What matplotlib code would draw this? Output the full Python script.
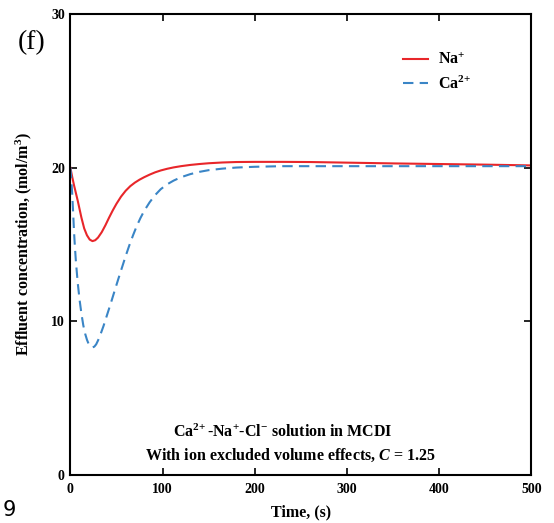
import matplotlib
matplotlib.use("Agg")
import matplotlib.pyplot as plt

plt.rcParams['font.family'] = 'Liberation Serif'
plt.rcParams['mathtext.fontset'] = 'custom'
plt.rcParams['mathtext.rm'] = 'Liberation Serif:bold'
plt.rcParams['mathtext.it'] = 'Liberation Serif:italic:bold'
plt.rcParams['mathtext.bf'] = 'Liberation Serif:bold'

# values
t_na = [0, 2, 4, 6, 8, 10, 12, 15, 18, 21, 24, 27, 30, 34, 38, 42, 46, 50, 55, 60, 65, 70, 75, 80,
        86, 92, 98, 105, 112, 120, 130, 140, 150, 165, 180, 200, 230, 260, 300, 350, 400, 450, 500]
na = [20.0, 19.4, 18.85, 18.35, 17.85, 17.3, 16.75, 16.05, 15.6, 15.32, 15.22, 15.28, 15.45, 15.8,
      16.25, 16.75, 17.22, 17.65, 18.12, 18.5, 18.8, 19.03, 19.22, 19.38, 19.55, 19.7, 19.82,
      19.93, 20.02, 20.1, 20.18, 20.24, 20.29, 20.34, 20.37, 20.38, 20.38, 20.37, 20.33, 20.28,
      20.24, 20.2, 20.15]
t_ca = [0, 1, 2, 3, 4, 5, 6, 8, 10, 12, 14, 16, 18, 20, 22, 24, 26, 28, 30, 33, 36, 40, 44, 48, 52,
        56, 60, 64, 68, 72, 76, 80, 86, 92, 98, 105, 112, 120, 130, 140, 150, 165, 180, 200, 230,
        260, 300, 400, 500]
ca = [20.0, 19.3, 18.3, 17.1, 15.8, 14.8, 13.9, 12.5, 11.4, 10.5, 9.75, 9.2, 8.8, 8.5, 8.35, 8.3,
      8.35, 8.5, 8.75, 9.2, 9.7, 10.45, 11.2, 11.98, 12.75, 13.5, 14.25, 14.95, 15.6, 16.2, 16.72,
      17.18, 17.75, 18.22, 18.6, 18.92, 19.16, 19.38, 19.58, 19.73, 19.84, 19.94, 20.01, 20.06,
      20.1, 20.1, 20.1, 20.1, 20.1]

fig = plt.figure(figsize=(5.54, 5.23), dpi=100)
ax = fig.add_axes([0.127, 0.092, 0.832, 0.881])

ax.plot(t_na, na, color='#e8262a', lw=1.5, label='Na$^{+}$')
ax.plot(t_ca, ca, color='#3a85c6', lw=1.5, ls=(0, (5, 3)), label='Ca$^{2\\!+}$')

ax.set_xlim(0, 500)
ax.set_ylim(0, 30)
ax.set_xticks([0, 100, 200, 300, 400, 500])
ax.set_yticks([0, 10, 20, 30])
ax.tick_params(direction='in', top=True, right=True, length=5, width=1.2, labelsize=10)
ax.tick_params(axis='x', pad=6)
ax.tick_params(axis='y', pad=4)
for lab in ax.get_xticklabels() + ax.get_yticklabels():
    lab.set_fontweight('bold')
for s in ax.spines.values():
    s.set_linewidth(1.5)

ax.set_xlabel('Time, (s)', fontsize=11.5, fontweight='bold', labelpad=6)
ax.set_ylabel('Effluent concentration, (mol/m$^{3}$)', fontsize=11.5, fontweight='bold', labelpad=12)

ax.legend(loc='upper left', bbox_to_anchor=(0.69, 0.95), frameon=False,
          prop={'weight': 'bold', 'size': 11.5}, handlelength=1.6, handletextpad=0.6,
          labelspacing=0.45)

ax.text(0.46, 0.092, 'Ca$^{2\\!+}$-Na$^{+}$-Cl$^{-}$ solution in MCDI', transform=ax.transAxes,
        ha='center', va='center', fontsize=11.5, fontweight='bold')
ax.text(0.478, 0.043, 'With ion excluded volume effects, $C$ = 1.25', transform=ax.transAxes,
        ha='center', va='center', fontsize=11.5, fontweight='bold')

fig.text(0.032, 0.918, '(f)', fontsize=20, ha='left', va='center')
fig.text(0.005, 0.025, '9', fontsize=15, family='DejaVu Sans', ha='left', va='center')

fig.savefig('out.png', dpi=100)
